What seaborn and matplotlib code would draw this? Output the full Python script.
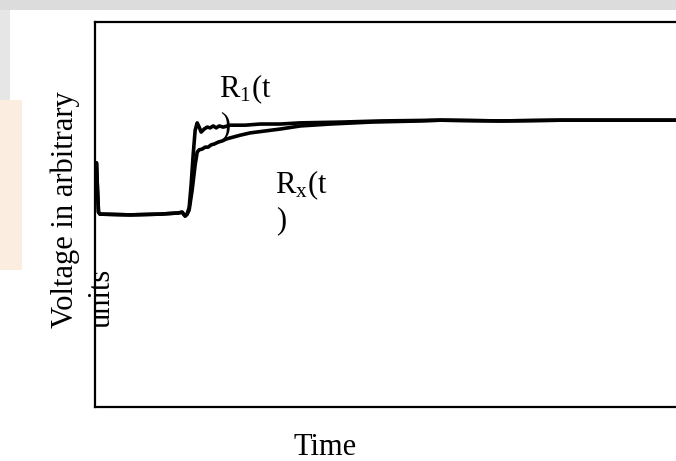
import matplotlib
matplotlib.use("Agg")
import matplotlib.pyplot as plt
import seaborn as sns
import pandas as pd
from matplotlib.patches import Rectangle

# ---- data (arbitrary units) ----
base_t = [0.026, 0.043, 0.060, 0.086, 0.602, 1.119, 1.429, 1.497, 1.549, 1.583]
base_v = [0.634, 0.564, 0.506, 0.501, 0.499, 0.501, 0.504, 0.506, 0.496, 0.501]

r1_t = [1.618, 1.652, 1.687, 1.721, 1.756, 1.790, 1.824, 1.876, 1.928, 1.979,
        2.031, 2.083, 2.134, 2.203, 2.324, 2.582, 2.840, 3.184, 3.528, 4.217,
        4.905, 5.938, 6.971, 8.003, 9.036, 10.0]
r1_v = [0.518, 0.577, 0.655, 0.719, 0.738, 0.727, 0.714, 0.722, 0.727, 0.725,
        0.730, 0.725, 0.730, 0.727, 0.732, 0.732, 0.735, 0.735, 0.738, 0.740,
        0.743, 0.745, 0.743, 0.745, 0.745, 0.745]

rx_t = [1.618, 1.670, 1.721, 1.756, 1.790, 1.842, 1.893, 1.945, 1.997, 2.048,
        2.117, 2.186, 2.255, 2.324, 2.496, 2.668, 2.926, 3.184, 3.528, 4.045,
        4.733, 5.594, 5.938, 6.971, 8.003, 9.036, 10.0]
rx_v = [0.512, 0.564, 0.629, 0.662, 0.668, 0.670, 0.675, 0.675, 0.681, 0.683,
        0.688, 0.691, 0.696, 0.699, 0.706, 0.712, 0.717, 0.722, 0.730, 0.735,
        0.740, 0.743, 0.745, 0.743, 0.745, 0.745, 0.745]

series_names = ["R1", "Rx"]
x_label = "Time"
y_label_1 = "Voltage in arbitrary"
y_label_2 = "units"

# ---- build table ----
rows = []
for name, tt, vv in [("R1", base_t + r1_t, base_v + r1_v),
                     ("Rx", base_t + rx_t, base_v + rx_v)]:
    for i, (a, b) in enumerate(zip(tt, vv)):
        rows.append({"series": name, "order": i, "time": a, "voltage": b})
df = pd.DataFrame(rows)

sns.set_theme(style="white")
plt.rcParams["font.family"] = ["Liberation Serif", "DejaVu Serif"]
plt.rcParams["mathtext.fontset"] = "custom"
plt.rcParams["mathtext.rm"] = "Liberation Serif"
plt.rcParams["mathtext.it"] = "Liberation Serif"
plt.rcParams["text.color"] = "black"

W, H = 676, 461
fig = plt.figure(figsize=(W / 100, H / 100), dpi=100)
fig.patch.set_facecolor("white")

# faint watermark-like background elements
fig.patches.append(Rectangle((0, 1 - 10 / H), 1, 10 / H, transform=fig.transFigure,
                             facecolor="#dcdcdc", edgecolor="none", zorder=0))
fig.patches.append(Rectangle((0, 1 - 100 / H), 10 / W, 90 / H, transform=fig.transFigure,
                             facecolor="#e6e6e6", edgecolor="none", zorder=0))
fig.patches.append(Rectangle((0, 1 - 270 / H), 22 / W, 170 / H, transform=fig.transFigure,
                             facecolor="#fbeee0", edgecolor="none", zorder=0))

ax = fig.add_axes([95 / W, 54 / H, 1 - 95 / W + 0.01, (407 - 22) / H])
ax.set_facecolor("white")

sns.lineplot(data=df, x="time", y="voltage", hue="series", units="series",
             estimator=None, sort=False, palette=["black", "black"],
             linewidth=2.6, legend=False, ax=ax)

ax.set_xlim(0, 10.1)
ax.set_ylim(0, 1)
ax.set_xticks([])
ax.set_yticks([])
ax.set_xlabel("")
ax.set_ylabel("")
for side in ["left", "top", "bottom"]:
    ax.spines[side].set_visible(True)
    ax.spines[side].set_color("black")
    ax.spines[side].set_linewidth(1.6)
ax.spines["right"].set_visible(False)

fs = 22
fig.text(325 / W, 1 - 455 / H, x_label, ha="center", va="baseline", fontsize=fs, color="black")
fig.text(73 / W, 1 - 328 / H, y_label_1, rotation=90, ha="left", va="baseline",
         fontsize=fs, color="black", rotation_mode="anchor")
fig.text(110 / W, 1 - 328 / H, y_label_2, rotation=90, ha="left", va="baseline",
         fontsize=fs, color="black", rotation_mode="anchor")

fig.text(219 / W, 1 - 97 / H, r"R$_1$(t", ha="left", va="baseline", fontsize=fs, color="black")
fig.text(220 / W, 1 - 133 / H, ")", ha="left", va="baseline", fontsize=fs, color="black")
fig.text(275 / W, 1 - 193 / H, r"R$_\mathrm{x}$(t", ha="left", va="baseline", fontsize=fs, color="black")
fig.text(276 / W, 1 - 228 / H, ")", ha="left", va="baseline", fontsize=fs, color="black")

fig.savefig("out.png", dpi=100, facecolor=fig.get_facecolor())
